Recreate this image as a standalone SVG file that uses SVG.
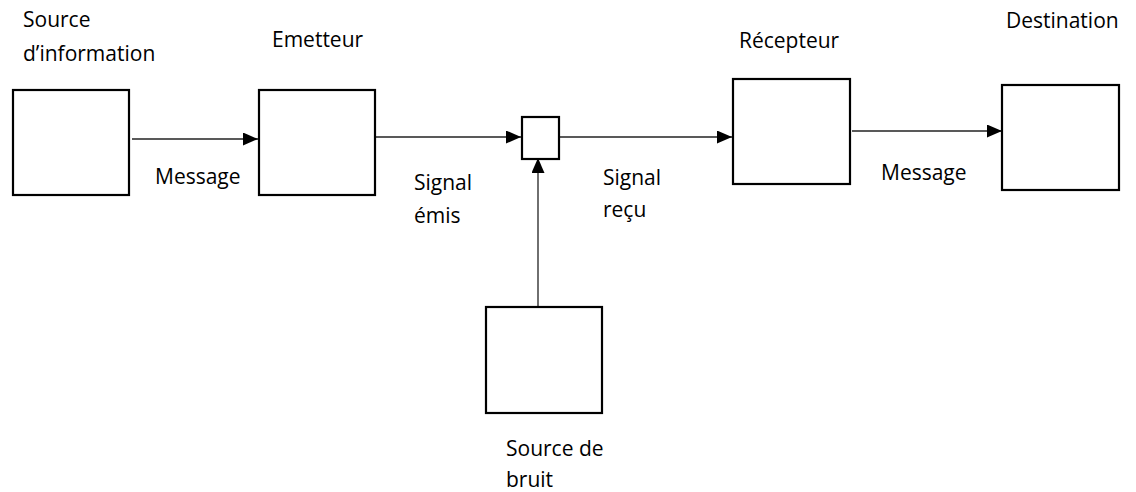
<svg xmlns="http://www.w3.org/2000/svg" width="1136" height="492" viewBox="0 0 1136 492">
<style>
.box{fill:#fff;stroke:#000;stroke-width:2.2}
.lbl{font-family:"Open Sans","Liberation Sans",sans-serif;font-size:21px;fill:#000}
.edge{stroke:#222;stroke-width:1.3;fill:none;marker-end:url(#ah)}
</style>
<defs>
<marker id="ah" markerWidth="16" markerHeight="13" refX="15" refY="6.5" orient="auto" markerUnits="userSpaceOnUse">
<path d="M0,0 L15,6.5 L0,13 Z" fill="#000"/>
</marker>
</defs>
<rect width="1136" height="492" fill="#fff"/>
<g id="connectors">
<line class="edge" x1="132" y1="139" x2="258" y2="139"/>
<line class="edge" x1="375" y1="137" x2="521" y2="137"/>
<line class="edge" x1="559" y1="137" x2="732" y2="137"/>
<line class="edge" x1="852" y1="131" x2="1002" y2="131"/>
<line class="edge" x1="538" y1="307" x2="538" y2="158"/>
<text class="lbl" x="155" y="184">Message</text>
<text class="lbl" x="414" y="190">Signal</text>
<text class="lbl" x="414" y="223">émis</text>
<text class="lbl" x="603" y="185">Signal</text>
<text class="lbl" x="603" y="217">reçu</text>
<text class="lbl" x="881" y="180">Message</text>
</g>
<g id="source">
<rect class="box" x="13" y="90" width="116" height="105"/>
<text class="lbl" x="23" y="27">Source</text>
<text class="lbl" x="23" y="61">d’information</text>
</g>
<g id="emetteur">
<rect class="box" x="259" y="90" width="116" height="105"/>
<text class="lbl" x="272" y="47">Emetteur</text>
</g>
<g id="canal">
<rect class="box" x="522" y="117" width="37" height="42"/>
</g>
<g id="recepteur">
<rect class="box" x="733" y="79" width="117" height="105"/>
<text class="lbl" x="739" y="48">Récepteur</text>
</g>
<g id="destination">
<rect class="box" x="1002" y="85" width="117" height="105"/>
<text class="lbl" x="1006" y="28">Destination</text>
</g>
<g id="bruit">
<rect class="box" x="486" y="307" width="116" height="106"/>
<text class="lbl" x="506" y="456">Source de</text>
<text class="lbl" x="506" y="487">bruit</text>
</g>
</svg>
